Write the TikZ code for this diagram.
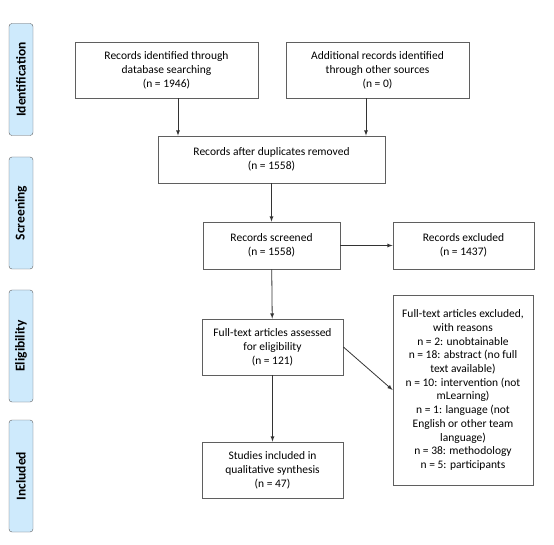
\documentclass[tikz,border=0pt]{standalone}
\usepackage{fontspec}
\setmainfont{Carlito}
\usepackage{tikz}
\usetikzlibrary{arrows}
\definecolor{stagefill}{RGB}{206,234,252}
\definecolor{boxline}{RGB}{95,95,95}
\tikzset{
	stagebox/.style={draw=boxline,fill=stagefill,rounded corners=3pt,rotate=90,
		minimum width=112pt,minimum height=24pt,inner sep=0pt,
		font=\fontsize{13.5}{14}\selectfont\bfseries},
	flowbox/.style={draw=boxline,line width=0.8pt,align=center,inner sep=0pt,
		font=\fontsize{11.5}{14}\selectfont},
	flowarrow/.style={-latex,line width=0.8pt,black!80}
}
\begin{document}
\begin{tikzpicture}[x=1pt,y=-1pt] % 1pt = 1 pixel of the reference
				\useasboundingbox (0,0) rectangle (554,545);
				\node[stagebox](S1) at (21,79.5) {Identification};
				\node[stagebox](S2) at (21,213) {Screening};
				\node[stagebox](S3) at (21,346) {Eligibility};
				\node[stagebox](S4) at (21,476) {Included};
				\node[flowbox,minimum width=183pt,minimum height=56pt](B1) at (166.5,70) {Records identified through\\database searching\\(n = 1946)};
				\node[flowbox,minimum width=183pt,minimum height=56pt](B2) at (377.5,70) {Additional records identified\\through other sources\\(n = 0)};
				\node[flowbox,minimum width=227pt,minimum height=47pt](B3) at (271.5,159.5) {Records after duplicates removed\\(n = 1558)};
				\node[flowbox,minimum width=137pt,minimum height=47pt](B4) at (271.5,245.5) {Records screened\\(n = 1558)};
				\node[flowbox,minimum width=141pt,minimum height=47pt](B5) at (463.5,245.5) {Records excluded\\(n = 1437)};
				\node[flowbox,minimum width=141pt,minimum height=56pt](B6) at (272.5,347) {Full-text articles assessed\\for eligibility\\(n = 121)};
				\node[flowbox,minimum width=141pt,minimum height=56pt](B7) at (272.5,470) {Studies included in\\qualitative synthesis\\(n = 47)};
				\node[flowbox,minimum width=140pt,minimum height=190pt,font=\fontsize{11.5}{13.7}\selectfont](B8) at (463,390) {Full-text articles excluded,\\with reasons\\n = 2: unobtainable\\n = 18: abstract (no full\\text available)\\n = 10: intervention (not\\mLearning)\\n = 1: language (not\\English or other team\\language)\\n = 38: methodology\\n = 5: participants};
				\coordinate(A1) at (178,0);\coordinate(A2) at (366,0);
				\draw[flowarrow] (B1.south -| A1) -- (B3.north -| A1);
				\draw[flowarrow] (B2.south -| A2) -- (B3.north -| A2);
				\draw[flowarrow] (B3) -- (B4);
				\draw[flowarrow] (B4) -- (B5);
				\draw[flowarrow] (B4) -- (B6);
				\draw[flowarrow] (B6) -- (B7);
				\draw[flowarrow] (B6.east) -- (B8.west);
			\end{tikzpicture}
\end{document}
